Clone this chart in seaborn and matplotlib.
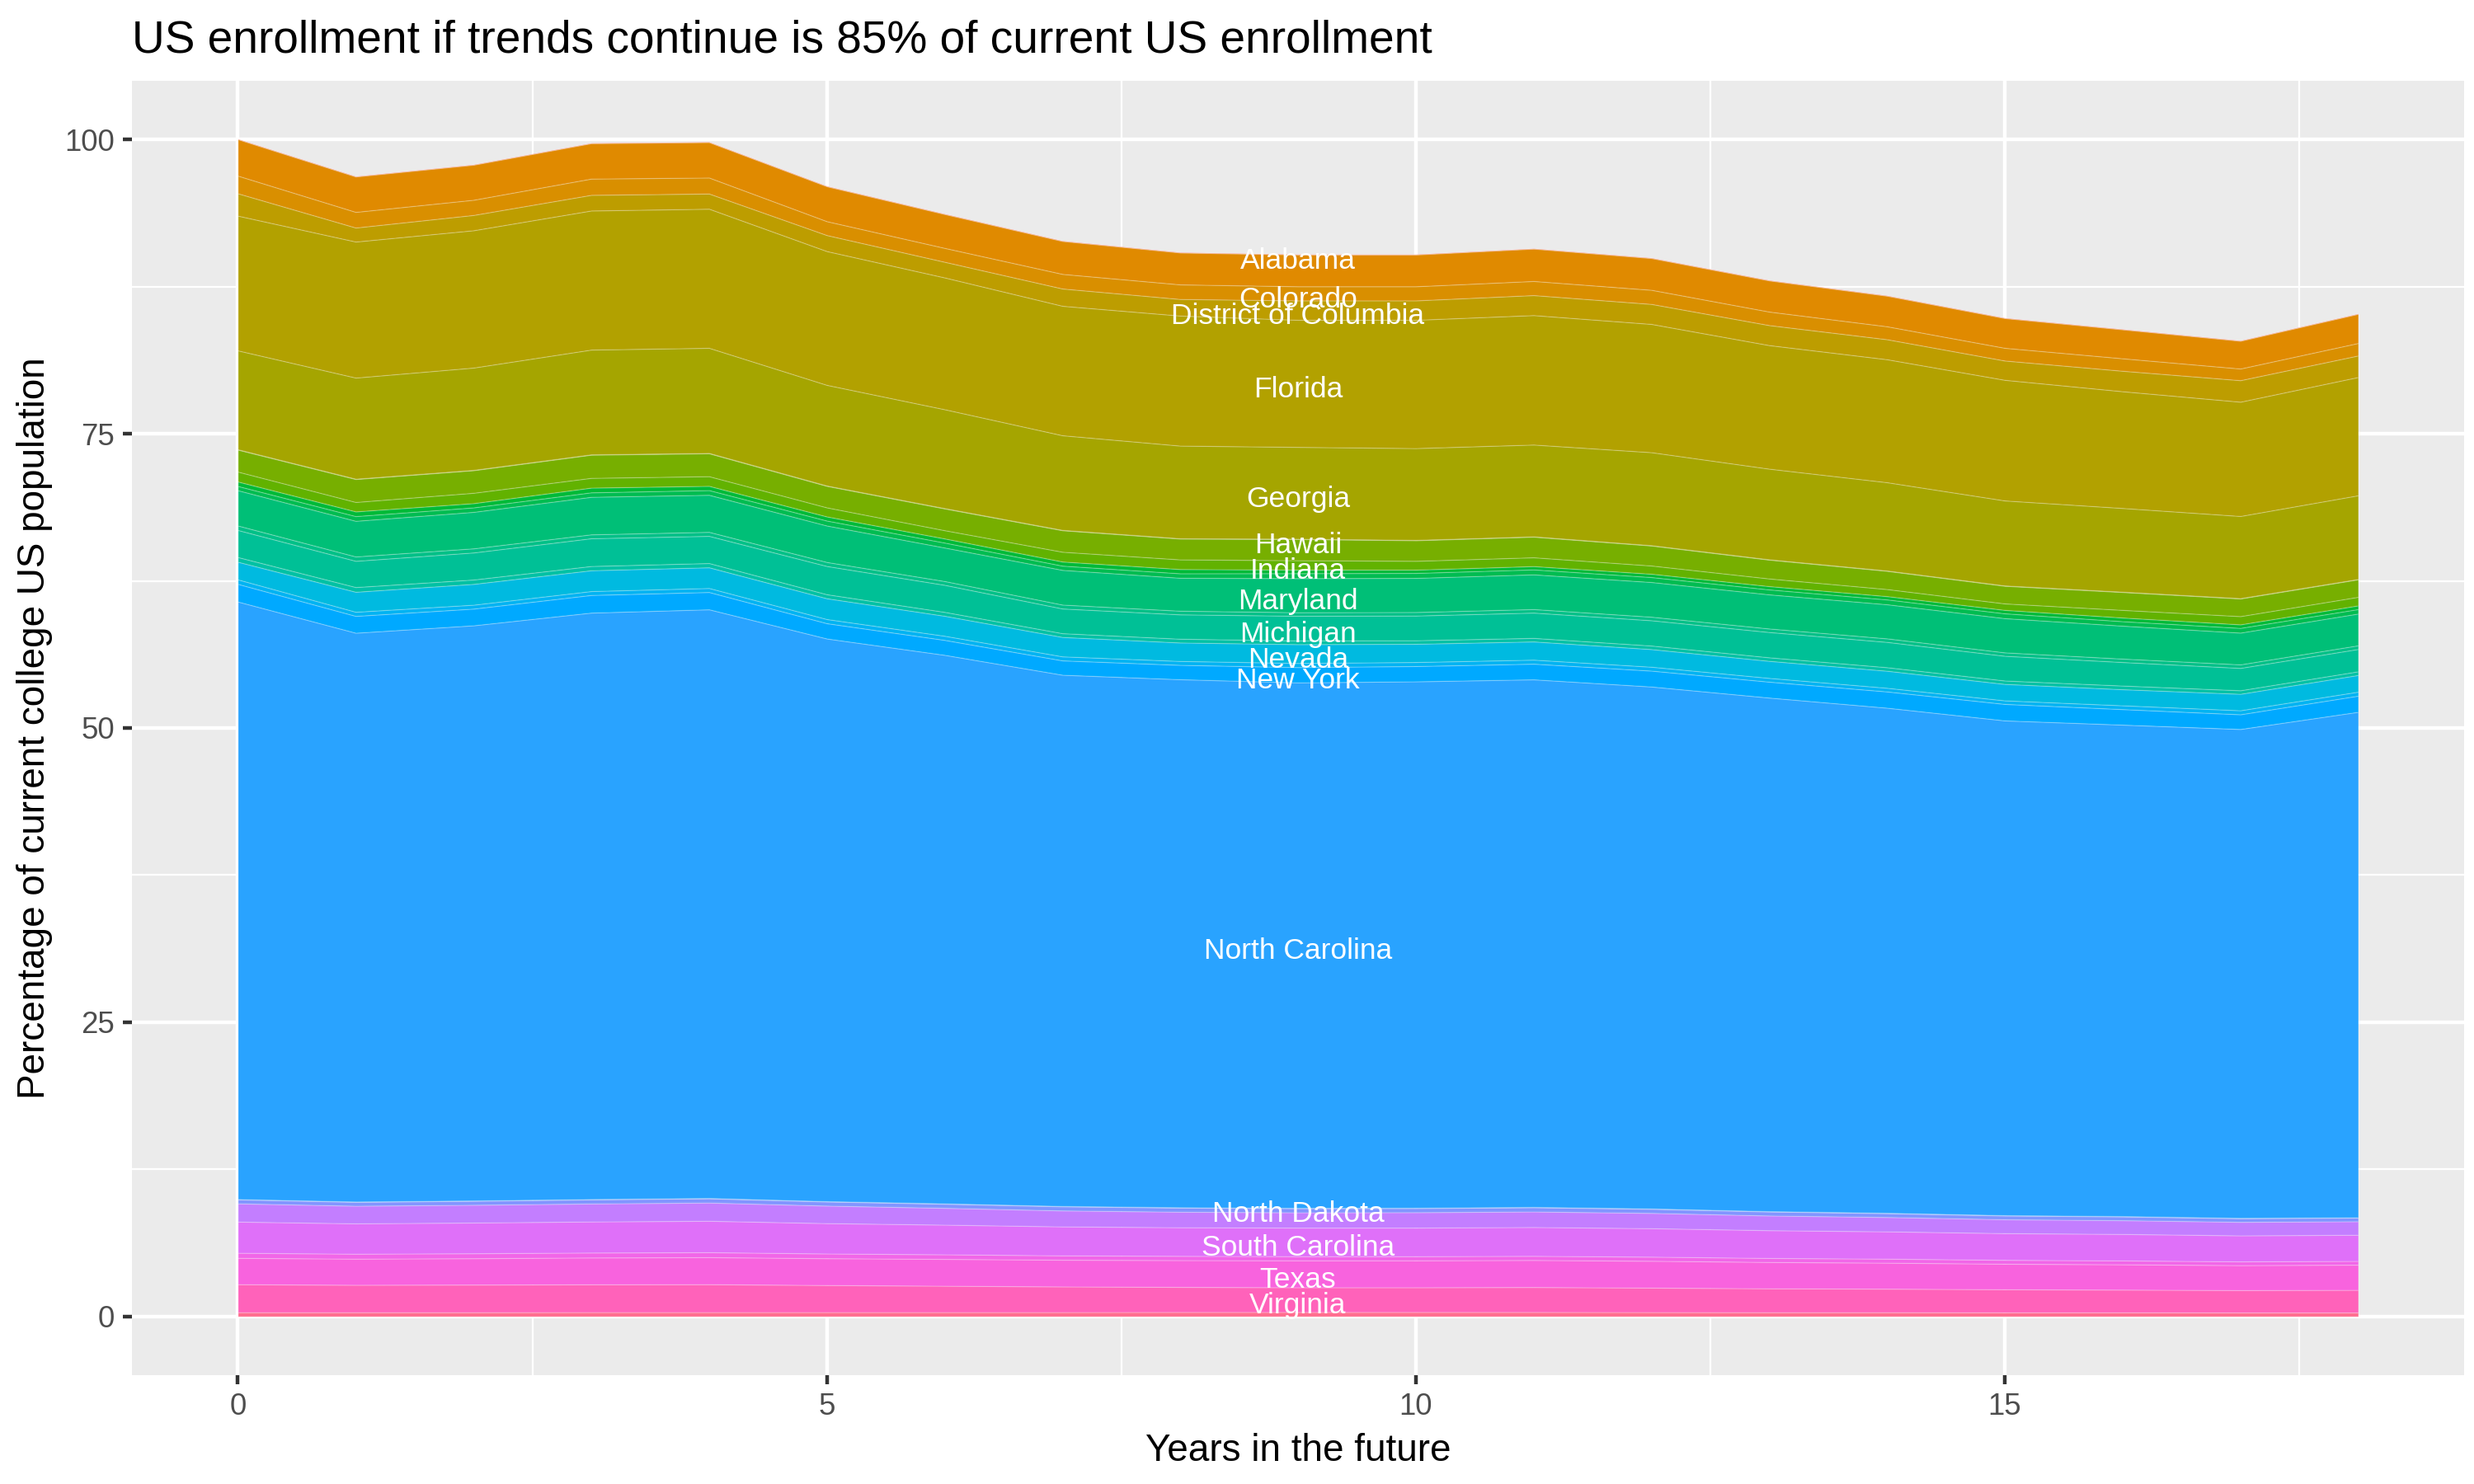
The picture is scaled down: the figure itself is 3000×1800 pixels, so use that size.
import math
import matplotlib
matplotlib.use("Agg")
import numpy as np
import pandas as pd
import matplotlib.pyplot as plt
import matplotlib.transforms as mtransforms
import seaborn as sns

# ---------------- text ----------------
TITLE = "US enrollment if trends continue is 85% of current US enrollment"
X_LABEL = "Years in the future"
Y_LABEL = "Percentage of current college US population"

# ---------------- data ----------------
YEARS = [0, 1, 2, 3, 4, 5, 6, 7, 8, 9, 10, 11, 12, 13, 14, 15, 16, 17, 18]
X_TICKS = [0, 5, 10, 15]
Y_TICKS = [0, 25, 50, 75, 100]

# factor levels (colour positions of the hue palette)
ALL_STATES = [
    "Alabama", "Alaska", "Arizona", "Arkansas", "California", "Colorado",
    "Connecticut", "Delaware", "District of Columbia", "Florida", "Georgia",
    "Hawaii", "Idaho", "Illinois", "Indiana", "Iowa", "Kansas", "Kentucky",
    "Louisiana", "Maine", "Maryland", "Massachusetts", "Michigan", "Minnesota",
    "Mississippi", "Missouri", "Montana", "Nebraska", "Nevada", "New Hampshire",
    "New Jersey", "New Mexico", "New York", "North Carolina", "North Dakota",
    "Ohio", "Oklahoma", "Oregon", "Pennsylvania", "Rhode Island",
    "South Carolina", "South Dakota", "Tennessee", "Texas", "Utah", "Vermont",
    "Virginia", "Washington", "West Virginia", "Wisconsin", "Wyoming",
]

ALABAMA = [0.03, 0.03, 0.03, 0.03, 0.03, 0.03, 0.03, 0.03, 0.03, 0.03, 0.03, 0.03, 0.03, 0.03, 0.03, 0.03, 0.03, 0.03, 0.03]
CALIFORNIA = [3.10, 3.01, 2.98, 3.01, 3.01, 2.97, 2.88, 2.80, 2.71, 2.70, 2.70, 2.75, 2.70, 2.65, 2.60, 2.53, 2.46, 2.36, 2.48]
COLORADO = [1.50, 1.33, 1.29, 1.38, 1.36, 1.18, 1.18, 1.24, 1.24, 1.20, 1.20, 1.20, 1.20, 1.15, 1.10, 1.08, 1.06, 0.99, 1.06]
DISTRICT_OF_COLUMBIA = [1.90, 1.19, 1.30, 1.33, 1.29, 1.36, 1.33, 1.47, 1.41, 1.65, 1.65, 1.70, 1.70, 1.70, 1.70, 1.64, 1.74, 1.83, 1.83]
FLORIDA = [11.45, 11.56, 11.67, 11.82, 11.82, 11.37, 11.20, 11.00, 11.05, 10.80, 10.90, 11.00, 10.90, 10.50, 10.45, 10.25, 9.92, 9.71, 10.05]
GEORGIA = [8.40, 8.59, 8.69, 8.90, 8.93, 8.55, 8.40, 8.04, 7.87, 7.80, 7.80, 7.80, 7.90, 7.70, 7.50, 7.22, 7.11, 6.98, 7.11]
HAWAII = [0.03, 0.03, 0.03, 0.03, 0.03, 0.03, 0.03, 0.03, 0.03, 0.03, 0.03, 0.03, 0.03, 0.03, 0.03, 0.03, 0.03, 0.03, 0.03]
ILLINOIS = [1.87, 1.95, 1.92, 1.97, 1.95, 1.83, 1.85, 1.83, 1.77, 1.80, 1.75, 1.75, 1.70, 1.60, 1.55, 1.50, 1.52, 1.50, 1.49]
INDIANA = [0.84, 0.80, 0.88, 0.83, 0.82, 0.77, 0.70, 0.83, 0.82, 0.80, 0.75, 0.75, 0.70, 0.65, 0.60, 0.55, 0.65, 0.70, 0.73]
KENTUCKY = [0.38, 0.40, 0.36, 0.40, 0.36, 0.35, 0.35, 0.35, 0.36, 0.30, 0.28, 0.28, 0.28, 0.28, 0.28, 0.29, 0.31, 0.30, 0.31]
LOUISIANA = [0.36, 0.40, 0.38, 0.38, 0.40, 0.42, 0.42, 0.36, 0.38, 0.42, 0.42, 0.42, 0.42, 0.42, 0.41, 0.41, 0.38, 0.40, 0.38]
MARYLAND = [3.00, 3.03, 3.10, 3.19, 3.15, 3.10, 2.85, 2.95, 2.80, 2.90, 2.90, 2.95, 2.95, 2.90, 2.90, 2.91, 2.80, 2.70, 2.70]
MASSACHUSETTS = [0.38, 0.37, 0.35, 0.33, 0.34, 0.34, 0.32, 0.33, 0.31, 0.30, 0.30, 0.30, 0.30, 0.30, 0.30, 0.29, 0.29, 0.30, 0.31]
MICHIGAN = [2.30, 2.23, 2.30, 2.36, 2.31, 2.40, 2.30, 2.10, 2.07, 2.10, 2.10, 2.15, 2.15, 2.15, 2.15, 2.10, 2.00, 1.90, 1.90]
MINNESOTA = [0.40, 0.40, 0.37, 0.36, 0.36, 0.34, 0.33, 0.32, 0.32, 0.31, 0.30, 0.30, 0.30, 0.30, 0.30, 0.29, 0.31, 0.30, 0.31]
NEVADA = [1.50, 1.70, 1.77, 1.77, 1.76, 1.77, 1.70, 1.65, 1.57, 1.60, 1.55, 1.55, 1.50, 1.45, 1.45, 1.40, 1.37, 1.40, 1.42]
NEW_JERSEY = [0.38, 0.35, 0.33, 0.33, 0.34, 0.35, 0.35, 0.34, 0.33, 0.35, 0.34, 0.34, 0.33, 0.32, 0.31, 0.30, 0.32, 0.34, 0.34]
NEW_YORK = [1.50, 1.43, 1.42, 1.50, 1.47, 1.30, 1.27, 1.22, 1.22, 1.30, 1.30, 1.33, 1.35, 1.35, 1.38, 1.40, 1.32, 1.25, 1.37]
NORTH_CAROLINA = [50.77, 48.33, 48.87, 49.83, 50.02, 47.81, 46.61, 45.14, 44.87, 44.65, 44.73, 44.83, 44.35, 43.64, 42.92, 42.04, 41.76, 41.54, 42.95]
NORTH_DAKOTA = [0.03, 0.03, 0.03, 0.03, 0.03, 0.03, 0.03, 0.03, 0.03, 0.03, 0.03, 0.03, 0.03, 0.03, 0.03, 0.03, 0.03, 0.03, 0.03]
OHIO = [0.34, 0.33, 0.34, 0.35, 0.36, 0.35, 0.35, 0.35, 0.35, 0.35, 0.35, 0.36, 0.35, 0.34, 0.33, 0.32, 0.32, 0.31, 0.31]
PENNSYLVANIA = [1.55, 1.50, 1.51, 1.53, 1.55, 1.49, 1.43, 1.36, 1.32, 1.30, 1.31, 1.32, 1.30, 1.25, 1.22, 1.18, 1.17, 1.15, 1.15]
SOUTH_CAROLINA = [2.65, 2.58, 2.61, 2.64, 2.67, 2.58, 2.52, 2.46, 2.43, 2.43, 2.43, 2.45, 2.42, 2.36, 2.32, 2.27, 2.25, 2.21, 2.22]
TENNESSEE = [0.43, 0.42, 0.42, 0.42, 0.42, 0.40, 0.39, 0.37, 0.36, 0.35, 0.35, 0.35, 0.35, 0.34, 0.34, 0.33, 0.33, 0.32, 0.32]
TEXAS = [2.24, 2.22, 2.24, 2.28, 2.30, 2.28, 2.28, 2.27, 2.28, 2.29, 2.29, 2.30, 2.28, 2.24, 2.21, 2.17, 2.15, 2.12, 2.14]
VIRGINIA = [2.38, 2.33, 2.35, 2.36, 2.37, 2.30, 2.24, 2.18, 2.13, 2.10, 2.10, 2.12, 2.08, 2.03, 2.00, 1.96, 1.93, 1.90, 1.92]
WISCONSIN = [0.35, 0.35, 0.35, 0.36, 0.36, 0.36, 0.36, 0.36, 0.37, 0.37, 0.37, 0.37, 0.36, 0.35, 0.35, 0.34, 0.34, 0.33, 0.33]

SERIES = {
    "Alabama": ALABAMA, "California": CALIFORNIA, "Colorado": COLORADO,
    "District of Columbia": DISTRICT_OF_COLUMBIA, "Florida": FLORIDA,
    "Georgia": GEORGIA, "Hawaii": HAWAII, "Illinois": ILLINOIS,
    "Indiana": INDIANA, "Kentucky": KENTUCKY, "Louisiana": LOUISIANA,
    "Maryland": MARYLAND, "Massachusetts": MASSACHUSETTS, "Michigan": MICHIGAN,
    "Minnesota": MINNESOTA, "Nevada": NEVADA, "New Jersey": NEW_JERSEY,
    "New York": NEW_YORK, "North Carolina": NORTH_CAROLINA,
    "North Dakota": NORTH_DAKOTA, "Ohio": OHIO, "Pennsylvania": PENNSYLVANIA,
    "South Carolina": SOUTH_CAROLINA, "Tennessee": TENNESSEE, "Texas": TEXAS,
    "Virginia": VIRGINIA, "Wisconsin": WISCONSIN,
}

# labels that survive the overlap check in the original
LABELED = [
    "Alabama", "Colorado", "District of Columbia", "Florida", "Georgia",
    "Hawaii", "Indiana", "Maryland", "Michigan", "Nevada", "New York",
    "North Carolina", "North Dakota", "South Carolina", "Texas", "Virginia",
]
LABEL_YEAR = 9


# ---------------- ggplot-style hue palette ----------------
def hcl_to_hex(h, c=100.0, l=65.0):
    hr = math.radians(h)
    U = c * math.cos(hr)
    V = c * math.sin(hr)
    Y = ((l + 16) / 116) ** 3 if l > 7.999592 else l / 903.3
    u = U / (13 * l) + 0.1978398
    v = V / (13 * l) + 0.4683363
    X = 9.0 * Y * u / (4 * v)
    Z = -X / 3 - 5 * Y + 3 * Y / v

    def g(t):
        return 1.055 * t ** (1 / 2.4) - 0.055 if t > 0.00304 else 12.92 * t

    rgb = [g(3.240479 * X - 1.537150 * Y - 0.498535 * Z),
           g(-0.969256 * X + 1.875992 * Y + 0.041556 * Z),
           g(0.055648 * X - 0.204043 * Y + 1.057311 * Z)]
    rgb = [min(1.0, max(0.0, ch)) for ch in rgb]
    return "#" + "".join(f"{int(round(ch * 255)):02X}" for ch in rgb)


def hue_pal(n):
    hues = np.linspace(15, 375 - 360 / n, n)
    return [hcl_to_hex(hh % 360) for hh in hues]


PALETTE = dict(zip(ALL_STATES, sns.color_palette(hue_pal(len(ALL_STATES)))))

# ---------------- theme ----------------
sns.set_theme(style="darkgrid", rc={
    "axes.facecolor": "#EBEBEB",
    "figure.facecolor": "white",
    "grid.color": "white",
})
plt.rcParams["font.family"] = ["Liberation Sans", "DejaVu Sans"]

df = pd.DataFrame(SERIES, index=YEARS)
order_top_down = [s for s in ALL_STATES if s in df.columns]
order_bottom_up = order_top_down[::-1]

fig = plt.figure(figsize=(10, 6), dpi=300)
ax = fig.add_axes([0.0533, 0.0733, 0.9427, 0.8723])

ax.stackplot(
    df.index.values,
    *[df[s].values for s in order_bottom_up],
    colors=[PALETTE[s] for s in order_bottom_up],
    linewidth=0.3,
    edgecolor=(1, 1, 1, 0.22),
    zorder=2,
)

# labels at band centres
row = df.loc[LABEL_YEAR, order_bottom_up]
cum = row.cumsum()
mid = cum - row / 2
label_shift = mtransforms.ScaledTranslation(0, -1.8 / 72, fig.dpi_scale_trans)
for s in LABELED:
    ax.text(LABEL_YEAR, mid[s], s, color="white", fontsize=8.5,
            ha="center", va="center", zorder=5,
            transform=ax.transData + label_shift)

ax.set_xlim(-0.9, 18.9)
ax.set_ylim(-5, 105)
ax.set_xticks(X_TICKS)
ax.set_xticklabels([str(t) for t in X_TICKS])
ax.set_yticks(Y_TICKS)
ax.set_yticklabels([str(t) for t in Y_TICKS])
ax.set_xticks([2.5, 7.5, 12.5, 17.5], minor=True)
ax.set_yticks([12.5, 37.5, 62.5, 87.5], minor=True)
ax.grid(which="major", color="white", linewidth=1.07)
ax.grid(which="minor", color="white", linewidth=0.53)
ax.set_axisbelow(True)
for sp in ax.spines.values():
    sp.set_visible(False)
ax.tick_params(which="major", length=2.75, width=1.07, color="#333333",
               labelcolor="#4D4D4D", labelsize=8.8, pad=2.2,
               bottom=True, left=True)
ax.tick_params(which="minor", length=0)
ax.set_xlabel("")
ax.set_ylabel("")

fig.text(0.0533, 0.9650, TITLE, fontsize=13.2, color="black",
         ha="left", va="baseline")
fig.text(0.5247, 0.0222, X_LABEL, fontsize=11, color="black",
         ha="center", va="center")
fig.text(0.014, 0.5094, Y_LABEL, fontsize=11, color="black",
         ha="center", va="center", rotation=90)

fig.savefig("out.png", dpi=300)
